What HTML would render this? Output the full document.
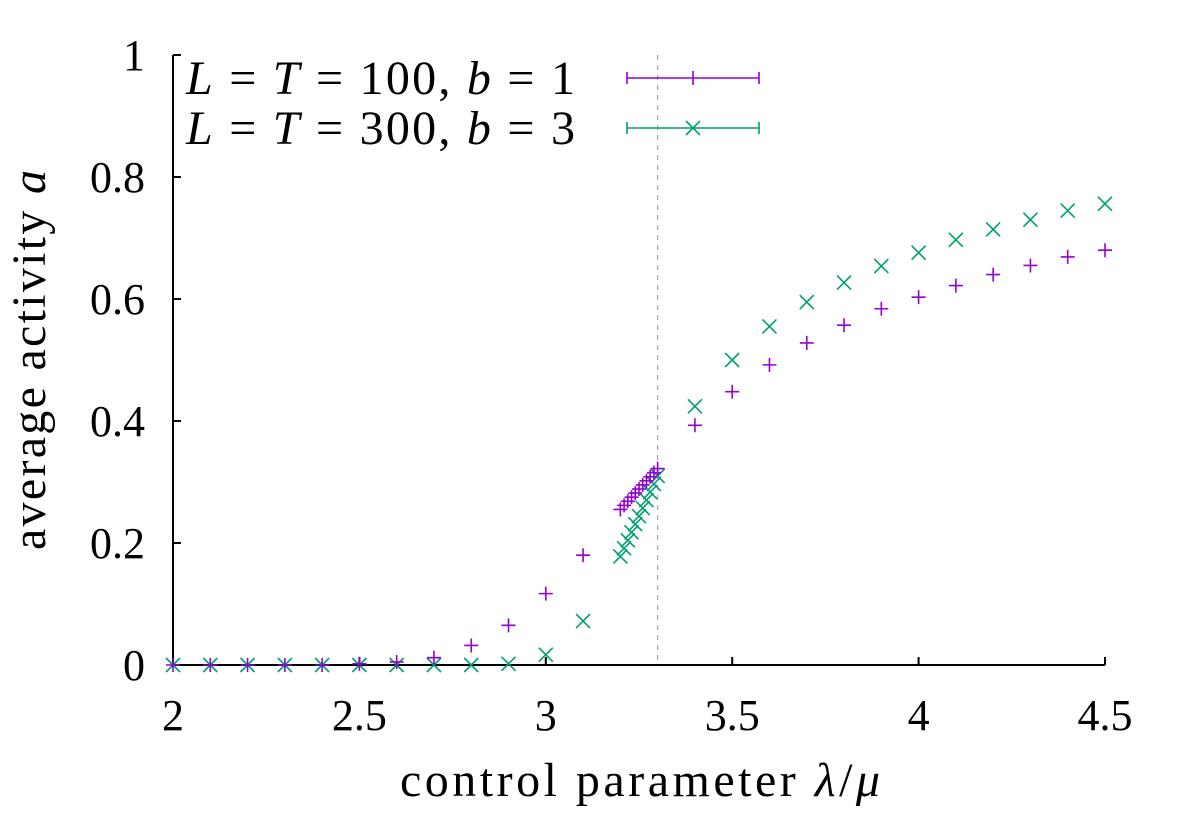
<!DOCTYPE html>
<html><head><meta charset="utf-8"><style>
html,body{margin:0;padding:0;background:#fff;}
svg{display:block;font-family:"Liberation Serif",serif;}
</style></head><body>
<svg id="s" width="1181" height="820" viewBox="0 0 1181 820" xmlns="http://www.w3.org/2000/svg">
<g stroke="#000" stroke-width="2" fill="none">
<path d="M173,55 V665 H1105"/>
<path d="M173,55 h8 M173,177 h8 M173,299 h8 M173,421 h8 M173,543 h8"/>
<path d="M359.4,665 v-8 M545.8,665 v-8 M732.2,665 v-8 M918.6,665 v-8 M1105,665 v-8"/>
</g>
<line x1="657.6" y1="55" x2="657.6" y2="665" stroke="#aaa" stroke-width="1.3" stroke-dasharray="5,5"/>
<g font-size="44" text-anchor="end" fill="#000">
<text x="145" y="680">0</text><text x="145" y="558">0.2</text><text x="145" y="436">0.4</text>
<text x="145" y="314">0.6</text><text x="145" y="192">0.8</text><text x="145" y="70">1</text>
</g>
<g font-size="44" text-anchor="middle" fill="#000">
<text x="173" y="730">2</text><text x="359.4" y="730">2.5</text><text x="545.8" y="730">3</text>
<text x="732.2" y="730">3.5</text><text x="918.6" y="730">4</text><text x="1105" y="730">4.5</text>
</g>
<g font-size="48" fill="#000">
<text x="400" y="796" textLength="480" lengthAdjust="spacing">control parameter <tspan font-style="italic">λ</tspan>/<tspan font-style="italic">μ</tspan></text>
<text transform="translate(45,550) rotate(-90)" textLength="380" lengthAdjust="spacing">average activity <tspan font-style="italic">a</tspan></text>
<text x="186" y="94" textLength="389" lengthAdjust="spacing"><tspan font-style="italic">L</tspan> = <tspan font-style="italic">T</tspan> = 100, <tspan font-style="italic">b</tspan> = 1</text>
<text x="186" y="144" textLength="389" lengthAdjust="spacing"><tspan font-style="italic">L</tspan> = <tspan font-style="italic">T</tspan> = 300, <tspan font-style="italic">b</tspan> = 3</text>
</g>
<g stroke="#9400d3" stroke-width="1.6" fill="none">
<path d="M627,78 H759 M627,72 v12 M759,72 v12 M686,78 h14 M693,71 v14"/>
</g>
<g stroke="#009e73" stroke-width="1.6" fill="none">
<path d="M627,128 H759 M627,122 v12 M759,122 v12 M686,121 l14,14 M686,135 l14,-14"/>
</g>
<g id="pts"></g>
</svg>
<script>
var X=function(v){return 173+(v-2)*372.8},Y=function(v){return 665-v*610};
var p=[[2,0],[2.1,0],[2.2,0],[2.3,0],[2.4,0],[2.5,0.002],[2.6,0.005],[2.7,0.012],[2.8,0.032],[2.9,0.065],[3,0.117],[3.1,0.18],
[3.4,0.393],[3.5,0.448],[3.6,0.492],[3.7,0.528],[3.8,0.557],[3.9,0.584],[4,0.603],[4.1,0.622],[4.2,0.64],[4.3,0.655],[4.4,0.669],[4.5,0.68]];
for(var i=0;i<=10;i++)p.push([3.2+i*0.01,0.255+i*0.0067]);
var g=[[2,0],[2.1,0],[2.2,0],[2.3,0],[2.4,0],[2.5,0],[2.6,0],[2.7,0],[2.8,0],[2.9,0.002],[3,0.017],[3.1,0.072],
[3.4,0.424],[3.5,0.5],[3.6,0.555],[3.7,0.595],[3.8,0.627],[3.9,0.654],[4,0.676],[4.1,0.697],[4.2,0.714],[4.3,0.73],[4.4,0.745],[4.5,0.756]];
for(var i=0;i<=10;i++)g.push([3.2+i*0.01,0.178+i*0.0132]);
var s='<path stroke="#009e73" stroke-width="1.6" fill="none" d="';
g.forEach(function(d){var x=X(d[0]),y=Y(d[1]);s+='M'+(x-7)+','+(y-7)+'l14,14M'+(x-7)+','+(y+7)+'l14,-14';});
s+='"/><path stroke="#9400d3" stroke-width="1.6" fill="none" d="';
p.forEach(function(d){var x=X(d[0]),y=Y(d[1]);s+='M'+(x-7)+','+y+'h14M'+x+','+(y-7)+'v14';});
s+='"/>';
document.getElementById('pts').innerHTML=s;
</script>
</body></html>
